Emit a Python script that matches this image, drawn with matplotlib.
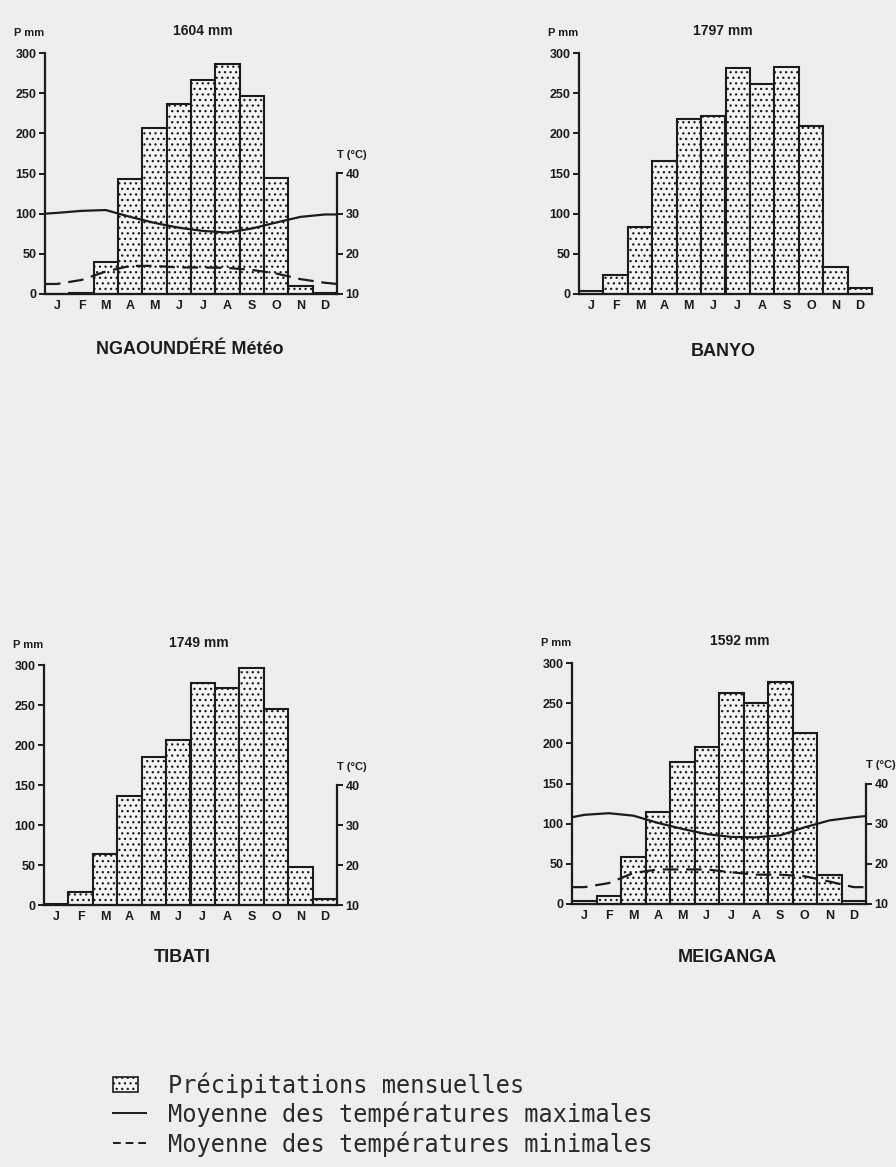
import numpy as np
import matplotlib.pyplot as plt
from matplotlib.patches import Rectangle

W, H = 896, 1167

months = ['J', 'F', 'M', 'A', 'M', 'J', 'J', 'A', 'S', 'O', 'N', 'D']

# precipitations mensuelles (mm)
p_ngaoundere = [0, 1, 40, 143, 207, 236, 267, 286, 247, 144, 10, 1]
p_banyo = [4, 24, 84, 165, 218, 222, 281, 261, 283, 209, 34, 7]
p_tibati = [1, 16, 64, 136, 185, 206, 278, 271, 296, 245, 47, 7]
p_meiganga = [4, 10, 59, 115, 177, 196, 263, 250, 276, 213, 36, 4]

# temperatures (deg C), monthly + value at the two ends of the axis
tmax_ngaoundere = [30.2, 30.7, 30.9, 29.2, 27.7, 26.5, 25.7, 25.3, 26.3, 27.8, 29.2, 29.8]
tmax_ngaoundere_ends = [30.0, 29.8]
tmin_ngaoundere = [12.5, 13.5, 15.6, 17.0, 17.0, 16.6, 16.6, 16.5, 16.0, 15.1, 13.7, 12.8]
tmin_ngaoundere_ends = [12.5, 12.5]
tmax_meiganga = [32.2, 32.6, 32.0, 30.2, 28.7, 27.4, 26.7, 26.6, 27.1, 29.1, 30.8, 31.6]
tmax_meiganga_ends = [31.6, 31.9]
tmin_meiganga = [14.2, 15.2, 17.7, 18.6, 18.6, 18.6, 17.9, 17.3, 17.3, 16.9, 15.6, 14.2]
tmin_meiganga_ends = [14.2, 14.2]

totals = ['1604 mm', '1797 mm', '1749 mm', '1592 mm']
stations = ['NGAOUNDÉRÉ Météo', 'BANYO', 'TIBATI', 'MEIGANGA']

legend_labels = ['Précipitations mensuelles',
                 'Moyenne des températures maximales',
                 'Moyenne des températures minimales']

INK = '#1c1c1c'
BG = '#eeeeee'
FONT = 'Liberation Sans'

plt.rcParams['hatch.linewidth'] = 0.9
plt.rcParams['hatch.color'] = INK


def curve(monthly, ends):
    x = np.r_[0, np.arange(12) + 0.5, 12]
    y = np.r_[ends[0], monthly, ends[1]]
    return x, y


fig = plt.figure(figsize=(W / 100, H / 100), dpi=100, facecolor=BG)

# overlay in pixel coordinates for names and legend
lax = fig.add_axes([0, 0, 1, 1], zorder=-1)
lax.set_xlim(0, W)
lax.set_ylim(H, 0)
lax.axis('off')

panels = [
    dict(box=(45, 53, 337, 294), p=p_ngaoundere, total=totals[0], tx=0.54, taxis=True,
         tmax=(tmax_ngaoundere, tmax_ngaoundere_ends), tmin=(tmin_ngaoundere, tmin_ngaoundere_ends),
         name=stations[0], nx=190, ny=349),
    dict(box=(579, 53, 872, 294), p=p_banyo, total=totals[1], tx=0.49, taxis=False,
         tmax=None, tmin=None, name=stations[1], nx=723, ny=351),
    dict(box=(44, 665, 337, 905), p=p_tibati, total=totals[2], tx=0.53, taxis=True,
         tmax=None, tmin=None, name=stations[2], nx=182, ny=957),
    dict(box=(572, 663, 866, 904), p=p_meiganga, total=totals[3], tx=0.57, taxis=True,
         tmax=(tmax_meiganga, tmax_meiganga_ends), tmin=(tmin_meiganga, tmin_meiganga_ends),
         name=stations[3], nx=727, ny=958),
]

for pn in panels:
    l, t, r, b = pn['box']
    ax = fig.add_axes([l / W, 1 - b / H, (r - l) / W, (b - t) / H])
    ax.patch.set_alpha(0)
    ax.bar(np.arange(12) + 0.5, pn['p'], width=1.0, facecolor='#f4f4f4',
           edgecolor=INK, linewidth=1.5, hatch='...', zorder=2, clip_on=False)
    ax.set_xlim(0, 12)
    ax.set_ylim(0, 300)
    for s in ['top', 'right']:
        ax.spines[s].set_visible(False)
    for s in ['left', 'bottom']:
        ax.spines[s].set_linewidth(1.6)
        ax.spines[s].set_color(INK)
        ax.spines[s].set_zorder(3)
    ax.set_yticks(range(0, 301, 50))
    ax.tick_params(axis='y', direction='out', length=4, width=1.4, color=INK, pad=2,
                   labelsize=9, labelcolor=INK)
    ax.set_xticks(np.arange(12) + 0.5)
    ax.set_xticklabels(months)
    ax.tick_params(axis='x', length=0, pad=4, labelsize=9, labelcolor=INK)
    for lab in ax.get_xticklabels() + ax.get_yticklabels():
        lab.set_fontfamily(FONT)
        lab.set_fontweight('bold')

    ax.text(-0.105, 325, 'P mm', transform=ax.get_yaxis_transform(), ha='left', va='center',
            fontsize=8, fontweight='bold', family=FONT, color=INK)
    ax.text(pn['tx'], 327, pn['total'], transform=ax.get_yaxis_transform(), ha='center',
            va='center', fontsize=10, fontweight='bold', family=FONT, color=INK)

    if pn['taxis']:
        ax2 = ax.twinx()
        ax2.set_ylim(10, 70)
        for s in ['top', 'left', 'bottom']:
            ax2.spines[s].set_visible(False)
        ax2.spines['right'].set_bounds(10, 40)
        ax2.spines['right'].set_linewidth(1.6)
        ax2.spines['right'].set_color(INK)
        ax2.set_yticks([10, 20, 30, 40])
        ax2.tick_params(axis='y', direction='out', length=4, width=1.4, color=INK, pad=2,
                        labelsize=9, labelcolor=INK)
        for lab in ax2.get_yticklabels():
            lab.set_fontfamily(FONT)
            lab.set_fontweight('bold')
        ax2.text(1.0, 44.6, 'T (°C)', transform=ax2.get_yaxis_transform(), ha='left',
                 va='center', fontsize=8, fontweight='bold', family=FONT, color=INK)
        if pn['tmax'] is not None:
            x, y = curve(*pn['tmax'])
            ax2.plot(x, y, color=INK, lw=1.6, zorder=4)
            x, y = curve(*pn['tmin'])
            ax2.plot(x, y, color=INK, lw=1.6, dashes=(7, 3.5), zorder=4)

    lax.text(pn['nx'], pn['ny'], pn['name'], ha='center', va='center', fontsize=13,
             fontweight='bold', family=FONT, color=INK)

# legend
lax.add_patch(Rectangle((113, 1077), 25, 15, facecolor='#f4f4f4', edgecolor=INK,
                        linewidth=1.2, hatch='...'))
lax.plot([113, 146], [1113, 1113], color=INK, lw=1.4)
lax.plot([113, 150], [1143, 1143], color=INK, lw=1.4, dashes=(4, 2.5))
for i, lab in enumerate(legend_labels):
    lax.text(168, 1085 + 29.5 * i, lab, ha='left', va='center', fontsize=17,
             family='DejaVu Sans Mono', color='#2a2a2a')

fig.savefig('out.png', dpi=100, facecolor=BG)
